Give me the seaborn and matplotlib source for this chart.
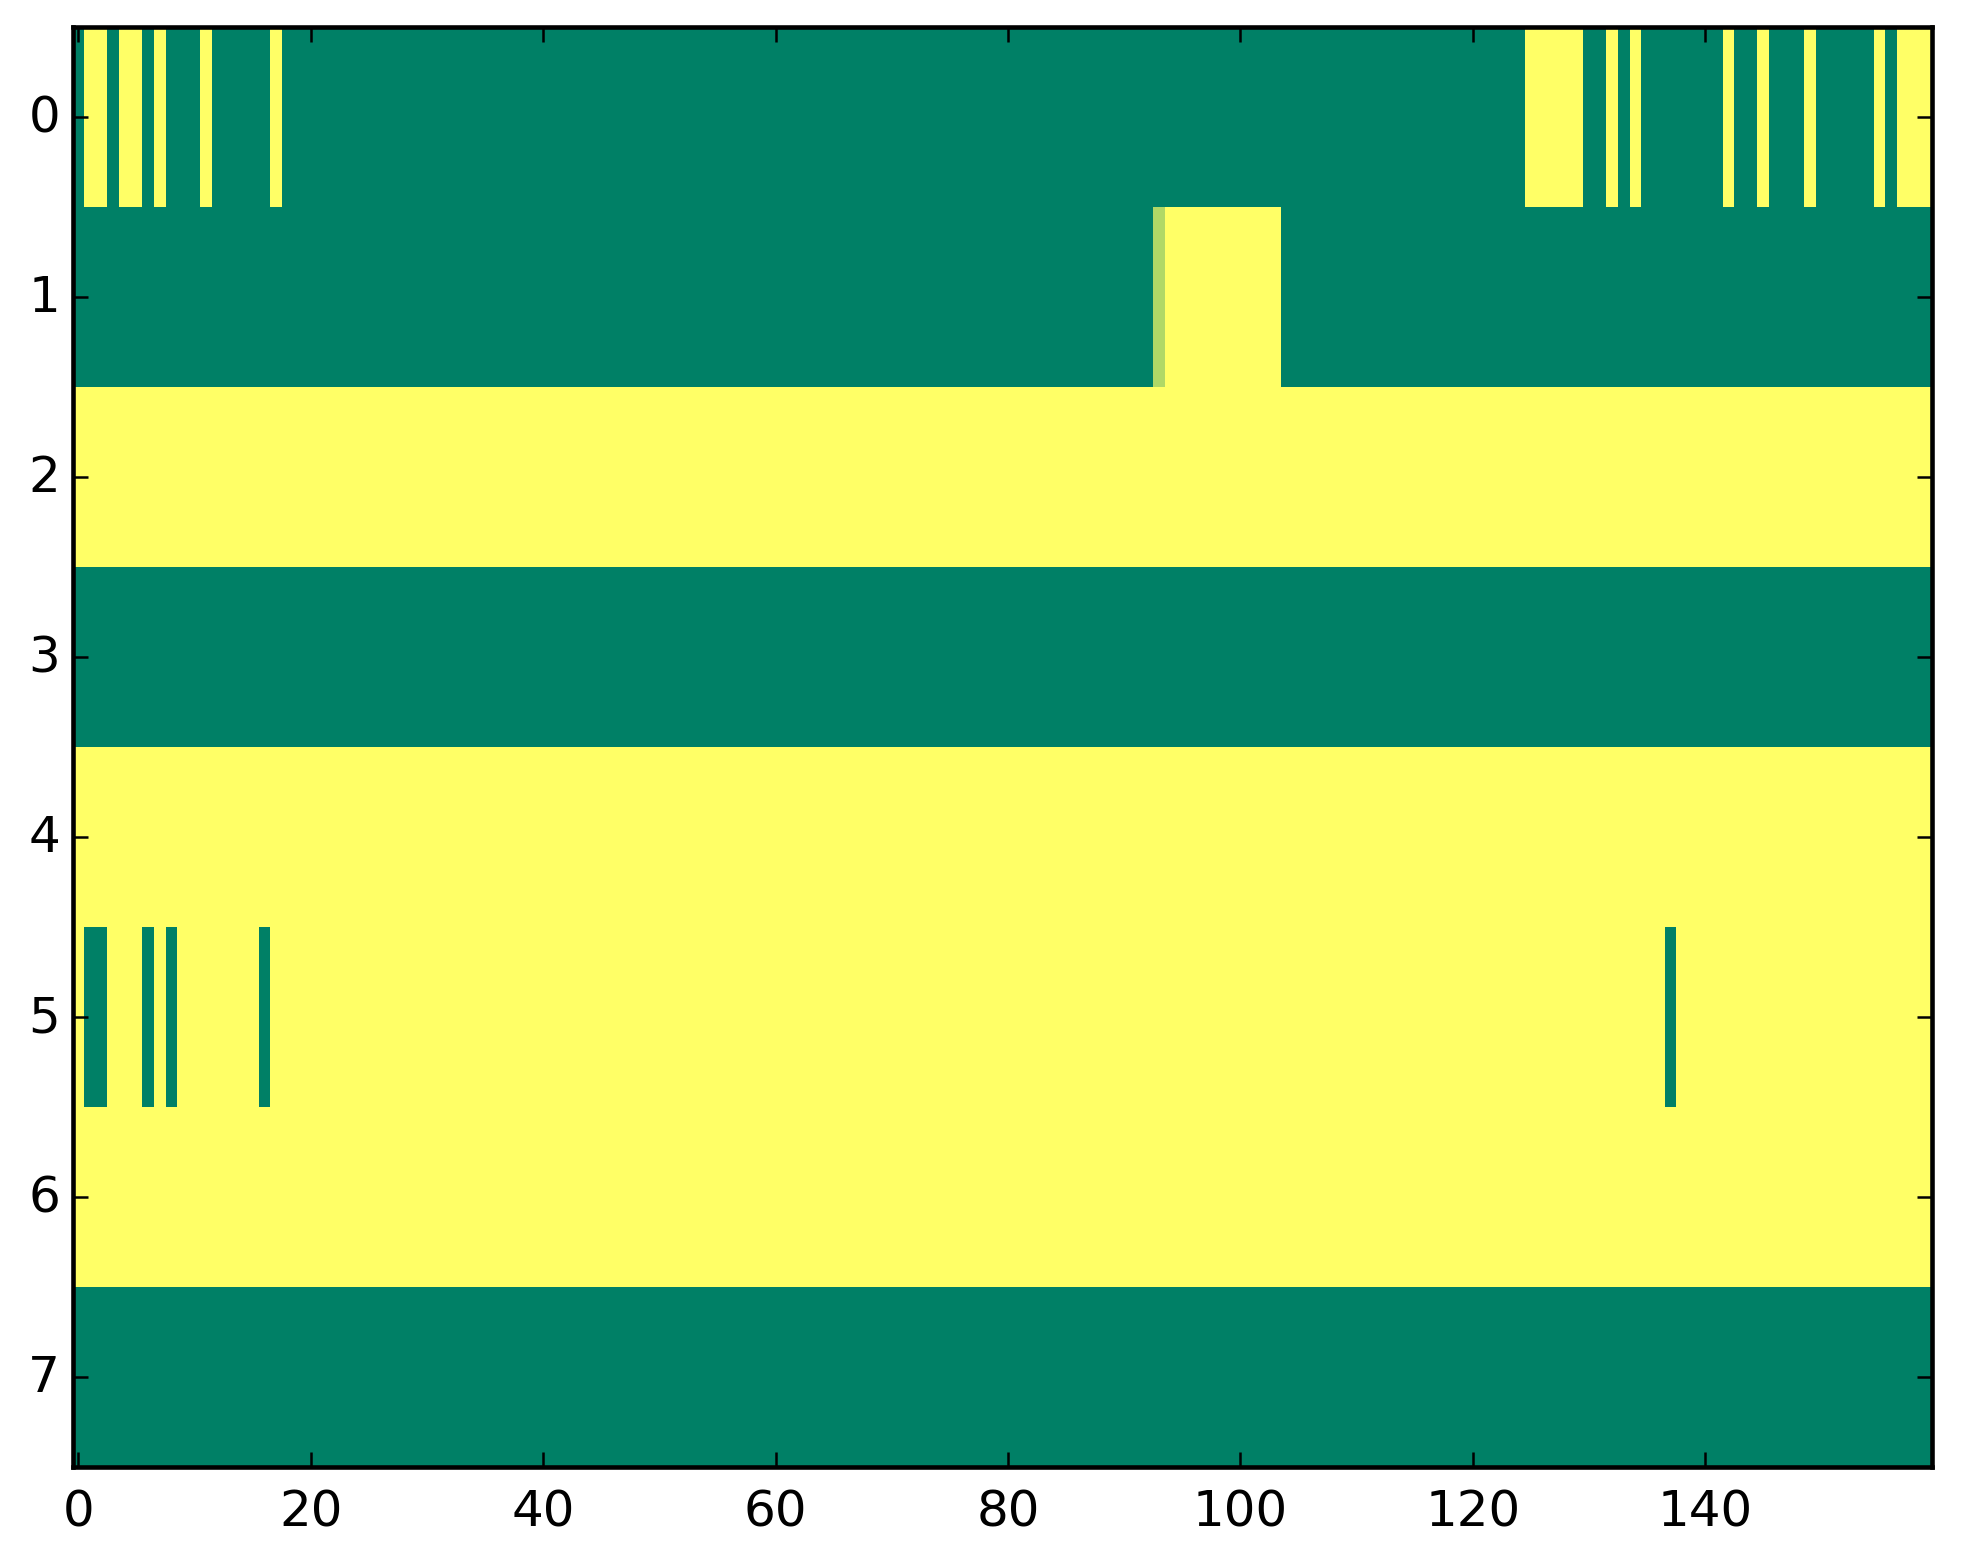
import numpy as np
import pandas as pd
import matplotlib
matplotlib.use("Agg")
import matplotlib.pyplot as plt
import seaborn as sns

n_cols = 160
n_rows = 8

# base value of each row (0 = green, 1 = yellow in "summer")
row_base = [0, 0, 1, 0, 1, 1, 1, 0]

# columns that flip away from the row base
row0_flip = [1, 2, 4, 5, 7, 11, 17, 125, 126, 127, 128, 129,
             132, 134, 142, 145, 149, 155, 157, 158, 159]
row1_flip = [94, 95, 96, 97, 98, 99, 100, 101, 102, 103]
row1_partial_col = 93
row1_partial_val = 0.69
row5_flip = [1, 2, 6, 8, 16, 137]

x_ticks = [0, 20, 40, 60, 80, 100, 120, 140]
y_ticks = [0, 1, 2, 3, 4, 5, 6, 7]

grid = np.array([[float(b)] * n_cols for b in row_base])
for c in row0_flip:
    grid[0, c] = 1 - row_base[0]
for c in row1_flip:
    grid[1, c] = 1 - row_base[1]
grid[1, row1_partial_col] = row1_partial_val
for c in row5_flip:
    grid[5, c] = 1 - row_base[5]

df = pd.DataFrame(grid)

sns.set_theme(style="white")
plt.rcParams['font.family'] = ['DejaVu Sans']

fig = plt.figure(figsize=(1963 / 300, 1564 / 300), dpi=300)
ax = fig.add_axes([0.0370, 0.0614, 0.9471, 0.9204])

sns.heatmap(df, cmap="summer", vmin=0, vmax=1, cbar=False, ax=ax)
ax.set_axisbelow(False)

ax.set_xticks([t + 0.5 for t in x_ticks])
ax.set_xticklabels([str(t) for t in x_ticks], rotation=0, fontsize=12)
ax.set_yticks([t + 0.5 for t in y_ticks])
ax.set_yticklabels([str(t) for t in y_ticks], rotation=0, fontsize=12)
ax.set_xlabel("")
ax.set_ylabel("")

for s in ax.spines.values():
    s.set_visible(True)
    s.set_color("black")
    s.set_linewidth(1.1)
    s.set_zorder(3)

ax.tick_params(direction="in", top=True, right=True, bottom=True, left=True,
               length=3.5, width=0.6, colors="black")
ax.tick_params(axis="x", pad=5)
ax.tick_params(axis="y", pad=3)

fig.savefig("out.png", dpi=300)
